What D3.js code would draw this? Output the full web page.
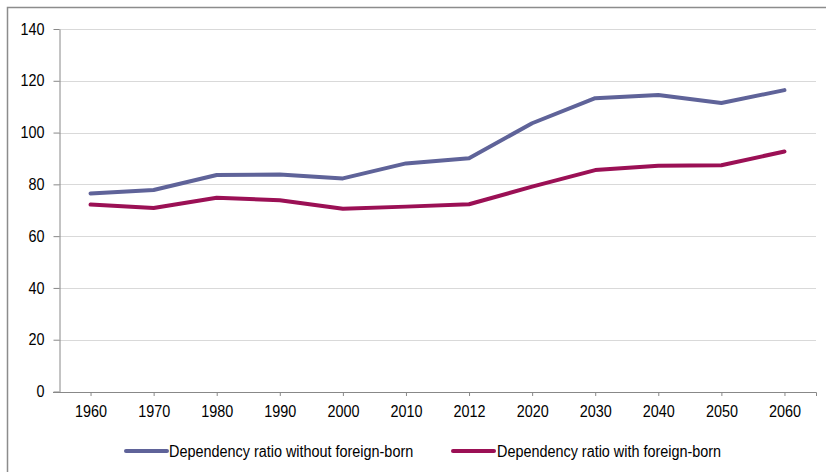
<!DOCTYPE html>
<html><head><meta charset="utf-8">
<script src="https://cdn.jsdelivr.net/npm/d3@7"></script>
<style>body{margin:0;background:#fff}svg{display:block}text{font-family:"Liberation Sans",Arial,sans-serif;fill:#000}</style>
</head><body>
<script>
const categories = ["1960","1970","1980","1990","2000","2010","2012","2020","2030","2040","2050","2060"];
const withoutForeign = [76.5,77.8,83.6,83.8,82.3,88.1,90.1,103.6,113.3,114.5,111.4,116.4];
const withForeign = [72.2,70.9,74.8,73.9,70.6,71.4,72.3,79.1,85.5,87.2,87.4,92.7];
const yTicks = [0,20,40,60,80,100,120,140];
const seriesNames = ["Dependency ratio without foreign-born","Dependency ratio with foreign-born"];
const colors = ["#5f6399","#9b1055"];

const W=826,H=472;
const svg=d3.select("body").append("svg").attr("width",W).attr("height",H);
// frame
svg.append("rect").attr("x",7.5).attr("y",7.5).attr("width",W+20).attr("height",H+20)
  .attr("fill","none").attr("stroke","#8c8c8c").attr("stroke-width",1.5);

const x=d3.scalePoint().domain(categories).range([59,816]).padding(0.5);
const y=d3.scaleLinear().domain([0,140]).range([391.5,29]);

// gridlines
svg.append("g").selectAll("line").data(yTicks.filter(d=>d>0)).join("line")
  .attr("x1",59).attr("x2",816).attr("y1",d=>Math.round(y(d))+0.5).attr("y2",d=>Math.round(y(d))+0.5)
  .attr("stroke","#d9d9d9").attr("stroke-width",1);

// y axis
const ya=svg.append("g").attr("transform","translate(59.5,0)")
  .call(d3.axisLeft(y).tickValues(yTicks).tickSize(6).tickPadding(9).tickSizeOuter(0));
ya.select(".domain").attr("stroke","#888");
ya.selectAll(".tick line").attr("stroke","#888");
ya.selectAll(".tick text").style("font-size","16px");

// x axis
const xa=svg.append("g").attr("transform","translate(0,392)")
  .call(d3.axisBottom(x).tickSize(4).tickPadding(10).tickSizeOuter(4));
xa.select(".domain").attr("stroke","#888").attr("d","M53,0.5H816.5V4");
xa.selectAll(".tick line").attr("stroke","#888");
xa.selectAll(".tick text").style("font-size","16px");

const line=d3.line().x((d,i)=>x(categories[i])).y(d=>y(d));
[withoutForeign,withForeign].forEach((s,k)=>{
  svg.append("path").datum(s).attr("d",line).attr("fill","none")
    .attr("stroke",colors[k]).attr("stroke-width",4).attr("stroke-linecap","round").attr("stroke-linejoin","round");
});

// legend
const lg=[{x:126,tx:169},{x:453,tx:497}];
seriesNames.forEach((n,k)=>{
  svg.append("line").attr("x1",lg[k].x).attr("x2",lg[k].x+41).attr("y1",451).attr("y2",451)
    .attr("stroke",colors[k]).attr("stroke-width",4).attr("stroke-linecap","round");
  svg.append("text").attr("x",lg[k].tx).attr("y",457).style("font-size","16px").text(n);
});

// condense text horizontally to mimic the narrow font
svg.selectAll("text").each(function(){
  const w=this.getComputedTextLength();
  d3.select(this).attr("textLength",(w*0.9).toFixed(1)).attr("lengthAdjust","spacingAndGlyphs");
});
</script>
</body></html>
